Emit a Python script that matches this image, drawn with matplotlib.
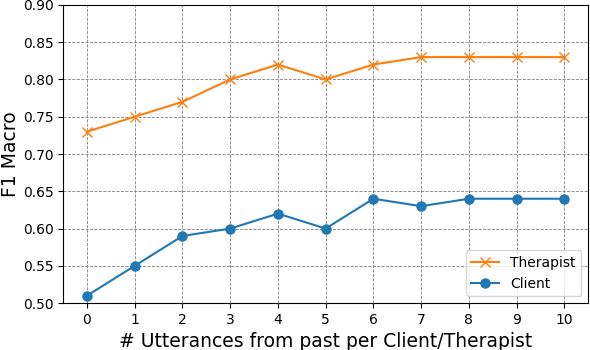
import matplotlib
matplotlib.use("Agg")
import matplotlib.pyplot as plt

utterances = list(range(11))
therapist = [0.73, 0.75, 0.77, 0.80, 0.82, 0.80, 0.82, 0.83, 0.83, 0.83, 0.83]
client = [0.51, 0.55, 0.59, 0.60, 0.62, 0.60, 0.64, 0.63, 0.64, 0.64, 0.64]

fig = plt.figure(figsize=(5.9, 3.5), dpi=100)
ax = fig.add_axes([0.107, 0.134, 0.89, 0.852])

ax.plot(utterances, therapist, color="tab:orange", marker="x", markersize=6.5, label="Therapist")
ax.plot(utterances, client, color="tab:blue", marker="o", markersize=6.5, label="Client")

ax.set_ylim(0.5, 0.9)
ax.set_xticks(utterances)
ax.set_xlabel("# Utterances from past per Client/Therapist", fontsize=13.5)
ax.set_ylabel("F1 Macro", fontsize=13.5, labelpad=2)
ax.tick_params(labelsize=10)
ax.grid(True, linestyle="--", color="gray", linewidth=0.6)
ax.legend(loc="lower right", fontsize=10)

fig.savefig("out.png", dpi=100)
plt.close(fig)
